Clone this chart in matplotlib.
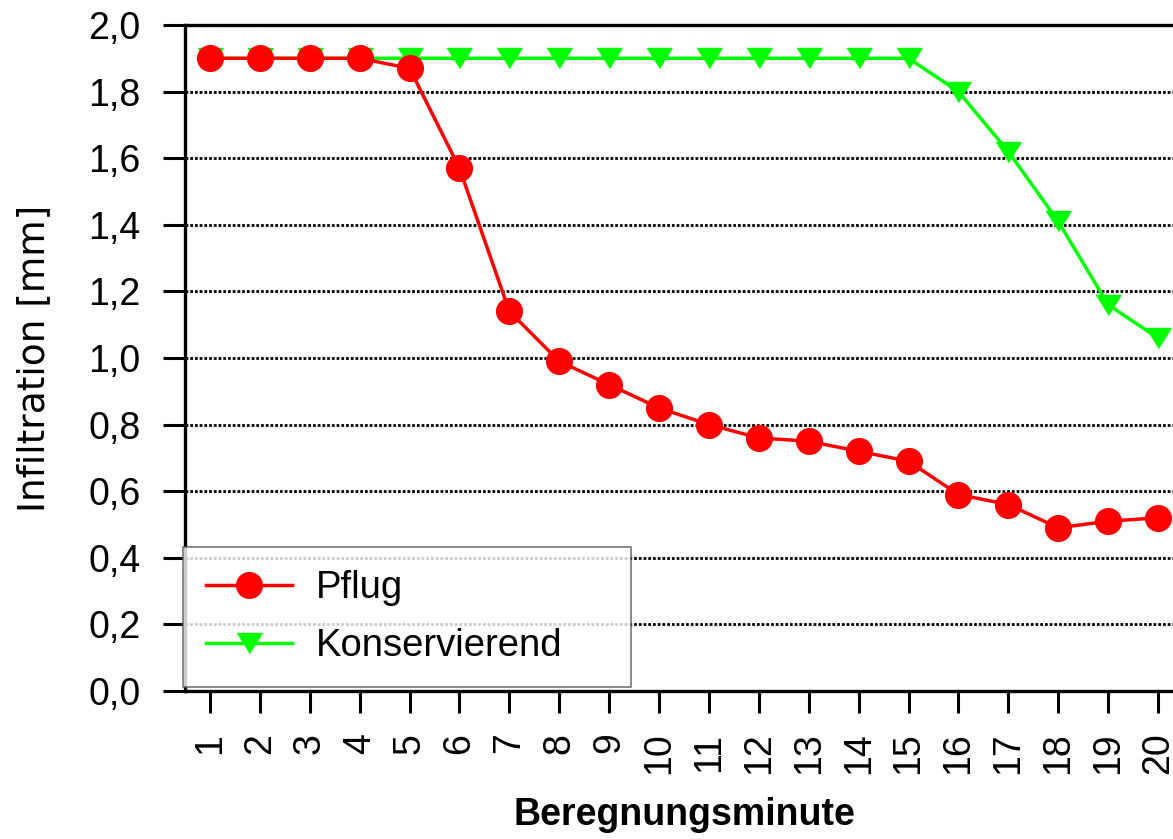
import matplotlib
matplotlib.use("Agg")
import matplotlib.pyplot as plt
from matplotlib.ticker import FuncFormatter

minutes = list(range(1, 21))
pflug = [1.90, 1.90, 1.90, 1.90, 1.87, 1.57, 1.14, 0.99, 0.92, 0.85,
         0.80, 0.76, 0.75, 0.72, 0.69, 0.59, 0.56, 0.49, 0.51, 0.52]
konservierend = [1.90, 1.90, 1.90, 1.90, 1.90, 1.90, 1.90, 1.90, 1.90, 1.90,
                 1.90, 1.90, 1.90, 1.90, 1.90, 1.80, 1.62, 1.41, 1.16, 1.06]
y_ticks = [0.0, 0.2, 0.4, 0.6, 0.8, 1.0, 1.2, 1.4, 1.6, 1.8, 2.0]

plt.rcParams['font.family'] = ['Liberation Sans', 'DejaVu Sans']

fig = plt.figure(figsize=(11.73, 8.39), dpi=100)
ax = fig.add_axes([185/1173, (839-691)/839, (1183-185)/1173, (691-25)/839])

for y in y_ticks[1:-1]:
    ax.axhline(y, color='black', linestyle=(0, (1.0, 0.7)), linewidth=2, zorder=1)

tri = [(-1, 0.8), (1, 0.8), (0, -0.8)]
ax.plot(minutes, konservierend, color='#00ff00', linewidth=2.5, marker=tri,
        markersize=18, markeredgecolor='#00ff00', label='Konservierend', zorder=3, clip_on=False)
ax.plot(minutes, pflug, color='#ff0000', linewidth=2.5, marker='o',
        markersize=18.5, markeredgecolor='#ff0000', label='Pflug', zorder=4, clip_on=False)

ax.set_xlim(0.5, 20.5)
ax.set_ylim(0, 2.0)
ax.set_yticks(y_ticks)
ax.yaxis.set_major_formatter(FuncFormatter(lambda v, p: f"{v:.1f}".replace('.', ',')))
ax.set_xticks(minutes)
ax.set_xticklabels([str(m) for m in minutes], rotation=90)

for s in ['left', 'bottom', 'top']:
    ax.spines[s].set_linewidth(2.4)
ax.spines['right'].set_visible(False)
ax.tick_params(axis='both', direction='out', length=16, width=2.2, labelsize=27)
ax.tick_params(axis='x', pad=14)
ax.tick_params(axis='y', pad=16)

ax.set_ylabel('Infiltration [mm]', fontsize=27, family=['DejaVu Sans'], labelpad=26)
ax.set_xlabel('Beregnungsminute', fontsize=27, fontweight='bold', labelpad=16)

handles, labels = ax.get_legend_handles_labels()
leg = ax.legend(handles[::-1], labels[::-1], loc='lower left',
                bbox_to_anchor=(-0.002, 0.006, 0.449, 0.2), mode='expand',
                fontsize=27.5, frameon=True, fancybox=False, shadow=False,
                handlelength=2.25, handletextpad=0.62, borderpad=0.6, labelspacing=0.58,
                borderaxespad=0.0)
leg.get_frame().set_edgecolor('#555555')
leg.get_frame().set_linewidth(1.2)
leg.set_zorder(10)

fig.savefig('out.png', dpi=100)
